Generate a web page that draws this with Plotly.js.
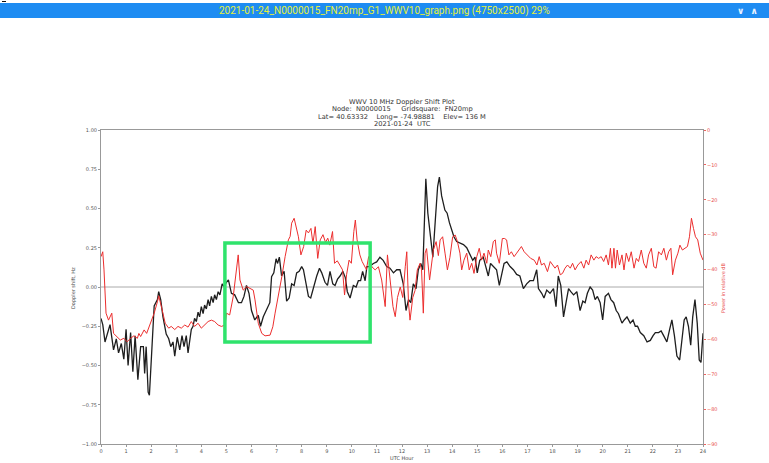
<!DOCTYPE html>
<html>
<head>
<meta charset="utf-8">
<script src="https://cdn.plot.ly/plotly-3.0.1.min.js"></script>
<style>html,body{margin:0;padding:0;background:#fff;}#chart{width:769px;height:463px;}</style>
</head>
<body>
<div id="chart"></div>
<script>
// Doppler shift (black), hours UTC
const dopplerHours = [0.00,0.07,0.16,0.36,0.50,0.61,0.70,0.81,0.91,1.00,1.08,1.18,1.27,1.36,1.47,1.58,1.69,1.74,1.80,1.88,1.93,2.01,2.12,2.25,2.30,2.38,2.47,2.60,2.70,2.78,2.87,2.94,3.04,3.14,3.23,3.31,3.40,3.47,3.60,3.67,3.73,3.80,3.87,3.93,4.00,4.07,4.13,4.20,4.27,4.33,4.40,4.47,4.53,4.60,4.67,4.74,4.83,4.91,5.00,5.08,5.20,5.33,5.48,5.60,5.70,5.80,5.90,6.00,6.13,6.27,6.36,6.47,6.60,6.73,6.80,6.89,6.98,7.04,7.11,7.20,7.30,7.40,7.50,7.60,7.70,7.80,7.90,8.00,8.07,8.17,8.27,8.36,8.47,8.60,8.71,8.80,8.93,9.03,9.13,9.24,9.33,9.43,9.53,9.64,9.74,9.82,9.93,10.06,10.17,10.26,10.35,10.43,10.53,10.60,10.70,10.86,10.99,11.12,11.25,11.39,11.52,11.66,11.79,11.92,12.05,12.16,12.26,12.35,12.45,12.56,12.65,12.75,12.83,12.89,12.95,13.03,13.14,13.23,13.33,13.42,13.49,13.58,13.71,13.80,13.89,13.98,14.07,14.18,14.31,14.45,14.58,14.71,14.82,14.91,15.00,15.10,15.24,15.34,15.44,15.53,15.64,15.77,15.88,15.98,16.07,16.18,16.31,16.44,16.57,16.70,16.84,16.97,17.10,17.24,17.37,17.44,17.57,17.66,17.77,17.90,18.04,18.14,18.23,18.33,18.44,18.55,18.64,18.73,18.84,18.97,19.10,19.21,19.30,19.39,19.50,19.60,19.70,19.79,19.90,20.00,20.10,20.23,20.33,20.44,20.54,20.63,20.77,20.86,20.97,21.10,21.21,21.30,21.39,21.50,21.64,21.77,21.90,22.01,22.10,22.23,22.33,22.43,22.56,22.67,22.76,22.86,22.96,23.07,23.16,23.25,23.33,23.42,23.51,23.59,23.68,23.77,23.85,23.92,24.00];
const dopplerHz = [-0.20,-0.24,-0.35,-0.24,-0.40,-0.33,-0.42,-0.36,-0.46,-0.27,-0.50,-0.29,-0.54,-0.31,-0.59,-0.38,-0.38,-0.55,-0.38,-0.67,-0.69,-0.46,-0.12,-0.08,-0.03,-0.08,-0.19,-0.30,-0.33,-0.38,-0.35,-0.44,-0.32,-0.40,-0.31,-0.38,-0.31,-0.42,-0.27,-0.25,-0.20,-0.22,-0.16,-0.19,-0.125,-0.17,-0.115,-0.14,-0.08,-0.12,-0.06,-0.10,-0.05,-0.08,-0.03,-0.05,0.02,0.00,0.03,0.045,-0.04,-0.05,-0.10,-0.10,-0.06,0.01,-0.04,-0.15,-0.21,-0.18,-0.25,-0.19,-0.15,-0.10,0.066,0.09,0.18,0.15,0.19,0.07,0.10,-0.09,-0.07,0.02,0.01,0.09,0.10,0.13,0.11,0.02,-0.06,-0.07,0.00,0.07,0.12,0.09,0.03,0.01,0.10,0.02,0.01,0.05,0.07,0.10,0.06,-0.03,-0.07,0.01,0.00,0.04,0.04,0.10,0.04,0.13,0.13,0.15,0.16,0.19,0.17,0.13,0.12,0.09,0.11,0.11,0.02,-0.15,-0.08,-0.10,0.02,-0.01,0.11,0.15,0.11,0.47,0.69,0.47,0.32,0.19,0.43,0.64,0.70,0.58,0.49,0.47,0.41,0.36,0.32,0.29,0.28,0.27,0.25,0.21,0.17,0.19,0.09,0.17,0.19,0.13,0.07,0.15,0.13,0.11,0.01,0.08,0.15,0.16,0.13,0.11,0.08,0.07,-0.01,0.02,0.04,0.04,0.11,-0.01,-0.04,-0.07,-0.02,-0.04,-0.01,-0.125,0.07,0.01,-0.19,-0.09,-0.01,-0.03,-0.05,-0.03,-0.15,-0.09,-0.10,-0.04,0.00,-0.02,-0.08,-0.06,-0.10,-0.21,-0.06,-0.04,-0.08,-0.10,-0.15,-0.17,-0.23,-0.21,-0.19,-0.23,-0.21,-0.25,-0.25,-0.29,-0.31,-0.35,-0.34,-0.31,-0.29,-0.29,-0.28,-0.31,-0.35,-0.27,-0.21,-0.31,-0.44,-0.465,-0.34,-0.21,-0.19,-0.25,-0.37,-0.19,-0.08,-0.23,-0.465,-0.48,-0.295];

// Received power (red), hours UTC
const powerHours = [0.00,0.07,0.12,0.20,0.30,0.36,0.43,0.50,0.64,0.77,0.91,1.04,1.18,1.31,1.45,1.51,1.58,1.72,1.82,1.92,2.01,2.12,2.25,2.30,2.42,2.56,2.70,2.80,2.94,3.07,3.20,3.34,3.47,3.60,3.73,3.87,4.00,4.13,4.27,4.40,4.53,4.67,4.80,4.95,5.00,5.13,5.27,5.47,5.54,5.67,5.81,5.94,6.07,6.14,6.27,6.41,6.54,6.74,6.85,6.94,7.07,7.21,7.34,7.47,7.54,7.60,7.70,7.78,7.87,7.97,8.08,8.18,8.27,8.37,8.45,8.54,8.64,8.74,8.85,8.95,9.04,9.12,9.23,9.31,9.42,9.52,9.63,9.71,9.79,9.89,9.98,10.08,10.14,10.21,10.32,10.41,10.50,10.58,10.67,10.80,10.93,11.06,11.19,11.33,11.42,11.53,11.64,11.73,11.82,11.93,12.03,12.13,12.19,12.26,12.32,12.43,12.52,12.61,12.72,12.78,12.85,12.92,12.98,13.10,13.20,13.25,13.36,13.45,13.52,13.62,13.72,13.81,13.91,14.02,14.12,14.21,14.31,14.38,14.47,14.58,14.68,14.78,14.87,14.98,15.08,15.17,15.27,15.38,15.44,15.54,15.64,15.72,15.77,15.88,16.00,16.09,16.17,16.26,16.36,16.47,16.57,16.66,16.76,16.87,17.00,17.13,17.27,17.38,17.47,17.56,17.67,17.80,17.91,18.00,18.10,18.20,18.31,18.40,18.50,18.60,18.71,18.80,18.90,19.01,19.14,19.25,19.34,19.44,19.54,19.65,19.74,19.84,19.94,20.04,20.14,20.23,20.31,20.37,20.45,20.51,20.58,20.67,20.77,20.85,20.94,21.04,21.14,21.25,21.34,21.43,21.54,21.64,21.74,21.83,21.94,22.04,22.13,22.23,22.34,22.44,22.54,22.63,22.72,22.79,22.90,23.00,23.08,23.18,23.28,23.38,23.46,23.54,23.62,23.70,23.79,23.89,24.00];
const powerDb = [-36.3,-34.9,-40.1,-52.5,-54.5,-53.5,-52.5,-58.3,-59.2,-60.2,-59.7,-60.7,-59.7,-59.0,-59.7,-58.3,-59.2,-57.3,-58.3,-56.3,-54.5,-52.5,-49.2,-47.5,-51.0,-55.4,-56.8,-56.3,-57.2,-56.3,-56.8,-55.9,-56.5,-54.9,-56.3,-55.4,-56.8,-55.9,-54.9,-54.5,-54.9,-55.9,-56.3,-55.9,-52.5,-53.0,-47.8,-35.8,-43.0,-45.9,-44.9,-45.4,-45.9,-48.7,-55.4,-58.3,-59.0,-58.8,-56.4,-52.5,-47.8,-42.0,-36.3,-31.5,-30.5,-26.7,-25.3,-28.0,-30.6,-35.8,-33.4,-28.7,-29.5,-28.2,-32.5,-27.7,-36.8,-31.5,-30.0,-32.2,-31.0,-33.0,-29.1,-38.2,-37.5,-38.7,-40.1,-47.3,-41.5,-37.3,-38.2,-29.1,-25.8,-31.5,-35.8,-37.7,-39.2,-40.0,-36.3,-39.2,-40.1,-39.2,-43.0,-50.6,-35.8,-43.0,-50.6,-53.5,-48.0,-45.0,-48.0,-39.2,-34.9,-49.7,-54.5,-48.0,-46.0,-40.1,-38.2,-40.1,-52.5,-35.3,-34.0,-43.0,-38.2,-34.4,-32.0,-36.0,-31.5,-30.6,-35.5,-40.1,-36.5,-30.6,-30.1,-32.0,-35.3,-40.1,-37.3,-35.3,-40.1,-38.2,-41.1,-36.3,-33.9,-37.3,-35.3,-38.2,-34.4,-36.3,-32.0,-31.5,-35.3,-38.2,-31.1,-31.1,-31.5,-35.8,-34.9,-36.3,-35.3,-34.4,-33.4,-34.9,-35.8,-36.8,-37.3,-38.7,-36.3,-38.7,-38.2,-40.6,-37.7,-38.7,-39.6,-38.7,-41.5,-41.1,-39.6,-38.7,-39.6,-38.2,-40.1,-38.7,-37.7,-39.6,-37.3,-38.7,-35.8,-37.3,-36.3,-36.8,-36.3,-37.7,-35.8,-38.7,-33.9,-39.6,-33.9,-39.6,-34.4,-38.7,-35.8,-40.1,-35.3,-37.7,-34.9,-39.6,-36.8,-37.7,-34.4,-38.2,-39.6,-35.8,-33.9,-39.2,-39.6,-34.9,-35.8,-33.9,-37.3,-34.9,-33.9,-41.5,-37.3,-35.3,-33.0,-34.4,-33.9,-33.4,-30.6,-25.3,-28.2,-30.6,-31.5,-35.3,-37.3];

// Highlight box (hours / Hz)
const boxHours = [4.94, 10.73];
const boxHz = [-0.35, 0.28];

const titleLines = ["WWV 10 MHz Doppler Shift Plot",
  "Node:  N0000015     Gridsquare:  FN20mp",
  "Lat= 40.63332    Long= -74.98881    Elev= 136 M",
  "2021-01-24  UTC"];
const viewerCaption = "2021-01-24_N0000015_FN20mp_G1_WWV10_graph.png (4750x2500) 29%";

// pixel -> paper helpers (plot area 101..703 x 130..444)
const L = 101, R = 703, T = 130, B = 444;
const px = x => (x - L) / (R - L);
const py = y => (B - y) / (B - T);
const keepSpaces = s => s.replace(/ {2,}/g, m => '\u00a0'.repeat(m.length));

const traces = [
  {x: powerHours, y: powerDb, type: 'scatter', mode: 'lines', yaxis: 'y2',
   line: {color: '#ec2e2e', width: 1}, hoverinfo: 'skip', name: 'Power'},
  {x: dopplerHours, y: dopplerHz, type: 'scatter', mode: 'lines',
   line: {color: '#1e1e1e', width: 1.3}, hoverinfo: 'skip', name: 'Doppler'}
];

const ann = [];
const titleY = [101.7, 109.3, 116.5, 123.8];
titleLines.forEach((t, i) => ann.push({text: keepSpaces(t), xref: 'paper', yref: 'paper', x: px(402), y: py(titleY[i]),
  showarrow: false, xanchor: 'center', yanchor: 'middle', font: {family: 'DejaVu Sans', size: 6.7, color: '#333'}}));
ann.push({text: 'Doppler shift, Hz', xref: 'paper', yref: 'paper', x: px(73), y: py(288), textangle: -90,
  showarrow: false, xanchor: 'center', yanchor: 'middle', font: {family: 'DejaVu Sans', size: 5, color: '#444'}});
ann.push({text: 'Power in relative dB', xref: 'paper', yref: 'paper', x: px(723), y: py(288), textangle: -90,
  showarrow: false, xanchor: 'center', yanchor: 'middle', font: {family: 'DejaVu Sans', size: 5, color: '#e84848'}});
ann.push({text: 'UTC Hour', xref: 'paper', yref: 'paper', x: px(402), y: py(458),
  showarrow: false, xanchor: 'center', yanchor: 'middle', font: {family: 'DejaVu Sans', size: 5, color: '#444'}});
ann.push({text: viewerCaption, xref: 'paper', yref: 'paper', x: px(384), y: py(11),
  showarrow: false, xanchor: 'center', yanchor: 'middle', font: {family: 'Roboto', size: 10, color: '#e4f03a'}});
ann.push({text: '<b>\u2228\u00a0\u00a0\u2227</b>', xref: 'paper', yref: 'paper', x: px(747), y: py(11),
  showarrow: false, xanchor: 'center', yanchor: 'middle', font: {family: 'DejaVu Sans', size: 9, color: '#eaf2ff'}});

const shapes = [
  {type: 'rect', xref: 'paper', yref: 'paper', x0: px(0), x1: px(769), y0: py(18), y1: py(3),
   fillcolor: '#1e8cf2', line: {width: 0}, layer: 'below'},
  {type: 'rect', xref: 'paper', yref: 'paper', x0: px(2), x1: px(6), y0: py(2), y1: py(1),
   fillcolor: '#111', line: {width: 0}},
  {type: 'line', xref: 'paper', yref: 'y', x0: 0, x1: 1, y0: 0, y1: 0, line: {color: '#aaaaaa', width: 1}, layer: 'below'},
  {type: 'rect', xref: 'x', yref: 'y', x0: boxHours[0], x1: boxHours[1], y0: boxHz[0], y1: boxHz[1],
   line: {color: '#2fe36c', width: 3.5}, fillcolor: 'rgba(0,0,0,0)'}
];

const tickFont = {family: 'DejaVu Sans', size: 5, color: '#555'};
const layout = {
  width: 769, height: 463,
  margin: {l: L, r: 769 - R, t: T, b: 463 - B, pad: 0},
  paper_bgcolor: '#ffffff', plot_bgcolor: '#ffffff',
  showlegend: false,
  xaxis: {range: [0, 24], dtick: 1, tick0: 0, showgrid: false, zeroline: false,
    showline: true, mirror: true, linecolor: '#999', linewidth: 1,
    ticks: 'outside', ticklen: 2, tickcolor: '#999', tickfont: tickFont},
  yaxis: {range: [-1, 1], dtick: 0.25, tickformat: '.2f', showgrid: false, zeroline: false,
    showline: true, linecolor: '#999', linewidth: 1,
    ticks: 'outside', ticklen: 2, tickcolor: '#999', tickfont: tickFont},
  yaxis2: {range: [-90, 0], dtick: 10, overlaying: 'y', side: 'right', showgrid: false, zeroline: false,
    showline: true, linecolor: '#999', linewidth: 1,
    ticks: 'outside', ticklen: 2, tickcolor: '#ee6060',
    tickfont: {family: 'DejaVu Sans', size: 5, color: '#e85050'}},
  annotations: ann,
  shapes: shapes
};

Plotly.newPlot('chart', traces, layout, {staticPlot: true, displayModeBar: false});
</script>
</body>
</html>
